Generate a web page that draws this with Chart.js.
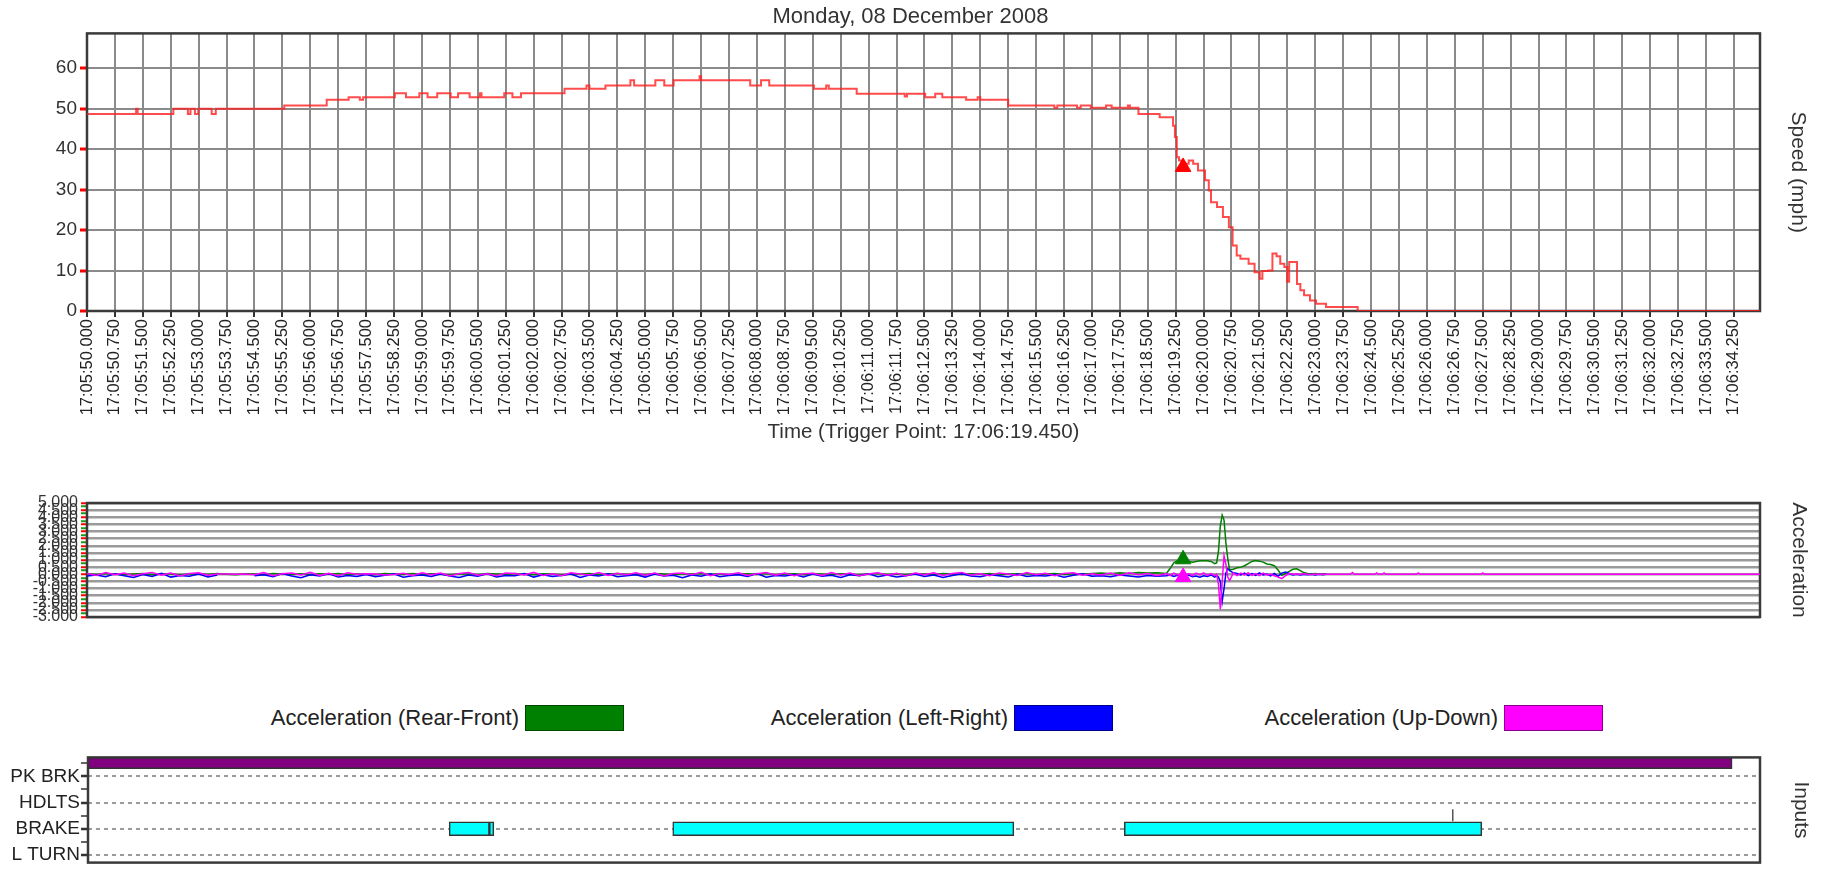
<!DOCTYPE html>
<html>
<head>
<meta charset="utf-8">
<script src="https://cdn.jsdelivr.net/npm/chart.js@4.4.1/dist/chart.umd.min.js"></script>
<style>
  body { margin: 0; background: #fff; font-family: "Liberation Sans", Arial, sans-serif; }
  #wrap { position: relative; width: 1821px; height: 875px; overflow: hidden; }
  canvas { position: absolute; left: 0; }
  #speedChart { top: 0; }
  #accelChart { top: 480px; }
  #inputsChart { top: 745px; }
  .legend-text { position: absolute; top: 705px; width: 400px; height: 26px; line-height: 26px;
    font-size: 22px; color: #222; text-align: right; white-space: nowrap; }
  .legend-box { position: absolute; top: 705px; width: 99px; height: 26px; box-sizing: border-box;
    border: 1px solid rgba(0, 0, 0, 0.45); }
</style>
</head>
<body>
<div id="wrap">
  <canvas id="speedChart" width="1821" height="450"></canvas>
  <canvas id="accelChart" width="1821" height="160"></canvas>
  <div id="accelLegend"></div>
  <canvas id="inputsChart" width="1821" height="130"></canvas>
</div>
<script>
// clock time of the first sample, seconds are counted from here
const startHour = 17, startMinute = 5, startSecond = 50;
const timeMax = 44.95;
const triggerTime = 29.45;

// speed (mph), change points of the stepped trace
const speedTimes = [
  0, 1.32, 1.36, 2.32, 2.71, 2.78, 2.9, 2.99, 3.35, 3.46,
  5.3, 6.44, 7.03, 7.33, 7.42, 8.27, 8.57, 8.93, 9.15, 9.41,
  9.77, 9.97, 10.28, 10.56, 10.6, 11.21, 11.43, 11.66, 12.83, 13.42,
  13.5, 13.93, 14.6, 14.7, 15.27, 15.51, 15.76, 16.46, 16.5, 17.82,
  18.11, 18.33, 19.53, 19.86, 19.93, 20.68, 21.97, 22.03, 22.52, 22.79,
  22.98, 23.62, 23.93, 24.0, 24.75, 25.99, 26.07, 26.6, 26.7, 26.97,
  27.38, 27.53, 27.97, 28.02, 28.25, 28.82, 29.18, 29.23, 29.28, 29.34,
  29.45, 29.6, 29.72, 29.85, 30.04, 30.14, 30.2, 30.36, 30.52, 30.68,
  30.78, 30.89, 30.99, 31.21, 31.37, 31.51, 31.58, 31.74, 31.85, 31.96,
  32.06, 32.17, 32.25, 32.3, 32.47, 32.51, 32.6, 32.7, 32.86, 33.02,
  33.29, 34.14, 44.95
];
const speedMph = [
  48.7, 50, 48.7, 50, 48.7, 50, 48.7, 50, 48.7, 50,
  50.8, 52.2, 52.8, 52.2, 52.8, 53.8, 52.8, 53.8, 52.8, 53.8,
  52.8, 53.8, 52.8, 53.8, 52.8, 53.8, 52.8, 53.8, 54.9, 55.7,
  54.9, 55.7, 57.0, 55.7, 57.0, 55.7, 57.0, 58.0, 57.0, 55.7,
  57.0, 55.7, 54.9, 55.7, 54.9, 53.7, 53.0, 53.7, 52.8, 53.7,
  52.8, 52.2, 52.8, 52.2, 50.8, 50.2, 50.8, 50.2, 50.8, 50.2,
  50.8, 50.2, 50.8, 50.2, 48.7, 47.9, 45.8, 43.0, 38.0, 37.2,
  36.4, 37.2, 36.4, 34.7, 32.3, 29.8, 26.9, 25.7, 23.2, 20.7,
  16.2, 13.7, 12.9, 11.7, 9.6, 8.0, 9.9, 10.0, 14.2, 13.5,
  11.7, 10.9, 7.2, 12.1, 12.1, 6.7, 5.1, 3.9, 2.6, 1.8,
  1.0, 0, 0
];
const speedAtTrigger = [35.6];

// acceleration before the event, one sample every 0.25 s from 0
const accelStep = 0.25;
const rearFrontPre = [
  0.03, -0.02, 0.05, 0.0, -0.04, 0.02, 0.06, -0.03, 0.01, 0.04,
  -0.05, 0.02, 0.03, -0.01, 0.05, 0.0, -0.03, 0.04, 0.02, -0.04,
  0.06, 0.01, -0.02, 0.03, -0.05, 0.04, 0.0, 0.05, -0.03, 0.02,
  0.01, -0.04, 0.05, 0.02, -0.02, 0.06, -0.01, 0.03, 0.0, -0.05,
  0.04, 0.02, -0.03, 0.05, 0.01, -0.02, 0.06, 0.0, -0.04, 0.03,
  0.02, -0.05, 0.04, 0.01, 0.05, -0.03, 0.02, 0.06, -0.01, 0.0,
  -0.03, 0.05, 0.02, -0.04, 0.03, 0.01, 0.06, -0.02, 0.04, -0.05,
  0.0, 0.03, -0.01, 0.05, -0.03, 0.02, 0.04, -0.04, 0.06, 0.01,
  -0.02, 0.04, 0.0, -0.05, 0.03, 0.05, -0.01, 0.02, -0.04, 0.06,
  0.01, -0.03, 0.05, 0.02, -0.02, 0.04, 0.0, 0.06, -0.05, 0.03,
  0.02, 0.05, -0.04, 0.01, 0.06, -0.02, 0.03, 0.0, 0.05, 0.08,
  0.04, 0.1, 0.06, 0.12, 0.08, 0.1
];
const leftRightPre = [
  -0.12, -0.05, -0.18, 0.04, -0.1, -0.22, -0.02, -0.15, 0.06, -0.2,
  -0.08, -0.14, 0.02, -0.19, -0.06, null, null, null, -0.11, -0.03,
  -0.17, 0.05, -0.12, -0.24, -0.04, -0.13, 0.03, -0.2, -0.09, -0.15,
  -0.02, -0.18, -0.07, 0.04, -0.21, -0.1, -0.05, -0.16, 0.02, -0.12,
  -0.23, -0.06, -0.14, 0.03, -0.19, -0.08, -0.11, 0.05, -0.2, -0.04,
  -0.15, -0.09, 0.01, -0.22, -0.06, -0.13, 0.04, -0.17, -0.1, -0.03,
  -0.2, 0.02, -0.12, -0.07, -0.24, -0.05, -0.14, 0.03, -0.18, -0.09,
  -0.04, -0.16, 0.05, -0.21, -0.08, -0.12, -0.02, -0.19, 0.01, -0.14,
  -0.07, -0.22, -0.03, -0.11, 0.04, -0.17, -0.06, -0.2, -0.1, 0.02,
  -0.15, -0.05, -0.23, -0.09, 0.03, -0.13, -0.18, -0.04, -0.11, -0.2,
  0.01, -0.16, -0.08, -0.12, -0.03, -0.21, -0.07, 0.04, -0.14, -0.1,
  -0.18, -0.05, -0.12, -0.2, -0.08, -0.14
];
const upDownPre = [
  0.06, -0.08, 0.12, -0.04, 0.09, -0.11, 0.03, 0.13, -0.06, 0.08,
  -0.12, 0.05, 0.1, -0.07, 0.02, 0.01, 0.0, 0.01, -0.03, 0.12,
  -0.1, 0.04, 0.09, -0.05, 0.13, -0.08, 0.06, -0.11, 0.1, 0.0,
  0.03, 0.02, -0.06, -0.01, 0.07, -0.09, 0.11, -0.04, 0.08, -0.12,
  0.05, 0.12, -0.07, 0.03, -0.1, 0.09, 0.06, -0.05, 0.13, -0.08,
  0.04, -0.11, 0.1, 0.02, -0.06, 0.12, -0.09, 0.07, -0.03, 0.11,
  -0.07, 0.09, -0.12, 0.05, 0.08, -0.04, 0.13, -0.1, 0.06, -0.02,
  0.1, -0.08, 0.04, 0.12, -0.06, 0.09, -0.11, 0.03, 0.07, -0.09,
  0.12, -0.05, 0.08, -0.1, 0.02, 0.11, -0.07, 0.06, -0.12, 0.09,
  -0.03, 0.1, -0.08, 0.05, 0.13, -0.06, 0.04, -0.1, 0.08, 0.01,
  -0.09, 0.12, -0.04, 0.07, -0.11, 0.06, 0.1, -0.07, 0.03, -0.05,
  0.09, -0.08, 0.11, -0.03, 0.06, -0.1
];

// acceleration around the impact
const eventTimes = [
  29.0, 29.1, 29.2, 29.3, 29.4, 29.5, 29.6, 29.7, 29.8, 29.9,
  30.0, 30.1, 30.2, 30.3, 30.35, 30.4, 30.45, 30.5, 30.55, 30.6,
  30.65, 30.7, 30.8, 30.9, 31.0, 31.1, 31.2, 31.3, 31.4, 31.5,
  31.6, 31.7, 31.8, 31.9, 32.0, 32.1, 32.2, 32.3, 32.4, 32.5,
  32.6, 32.7, 32.8, 32.9, 33.0, 33.1, 33.2, 33.3
];
const rearFrontEvent = [
  0.05, 0.4, 0.8, 0.95, 1.0, 0.95, 0.9, 0.85, 0.9, 0.95,
  0.95, 0.95, 0.9, 0.75, 0.8, 1.6, 3.4, 4.15, 3.8, 2.2,
  1.1, 0.3, 0.35, 0.45, 0.5, 0.6, 0.75, 0.9, 0.97, 0.92,
  0.85, 0.72, 0.68, 0.6, 0.3, -0.08, 0.05, 0.2, 0.35, 0.38,
  0.25, 0.1, 0.05, 0.02, 0.05, 0.0, 0.03, 0.0
];
const leftRightEvent = [
  -0.1, -0.05, -0.15, -0.08, -0.2, -0.1, -0.05, -0.18, -0.12, -0.2,
  -0.1, -0.15, -0.05, -0.2, -0.1, -0.2, -0.5, -1.9, -1.0, 0.1,
  0.4, 0.25, 0.1, 0.05, -0.05, 0.08, -0.1, 0.05, -0.08, 0.1,
  -0.05, 0.02, -0.12, 0.05, -0.15, 0.08, 0.15, 0.05, -0.05, 0.0,
  -0.05, 0.0, -0.03, 0.0, -0.05, 0.0, -0.04, 0.0
];
const upDownEvent = [
  0.05, -0.1, 0.08, -0.05, 0.0, -0.12, 0.05, -0.1, 0.08, -0.05,
  0.1, -0.08, 0.05, -0.1, 0.0, -0.7, -2.45, -0.5, 1.3, 0.7,
  -0.2, -0.45, 0.1, -0.1, 0.08, -0.05, 0.1, -0.08, 0.05, -0.1,
  0.08, -0.05, 0.0, -0.1, -0.2, -0.3, -0.1, 0.05, 0.0, 0.02,
  0.0, 0.03, 0.0, -0.02, 0.0, 0.02, 0.0, 0.0
];
const upDownTailTimes = [33.5, 33.95, 34.0, 34.05, 34.6, 34.65, 34.7, 34.8, 34.85, 34.9, 35.72, 35.77, 35.82, 37.45, 37.5, 37.55, 44.95];
const upDownTail = [0, 0, 0.12, 0, 0, 0.1, 0, 0, 0.1, 0, 0, 0.1, 0, 0, 0.1, 0, 0];
const rearFrontAtTrigger = [1.05];
const upDownAtTrigger = [-0.2];

// digital inputs
const inputRows = ['L TURN', 'BRAKE', 'HDLTS', 'PK BRK'];
const inputTicks = [0, 0.5, 1, 1.5, 2, 2.5, 3, 3.5];
const brakeOn = [[9.71, 10.79], [10.79, 10.91], [15.72, 24.89], [27.86, 37.47]];
const parkBrakeOn = [[0, 44.2]];
const parkBrakeRow = 3.5;
const brakeRow = 1;
const headlightBlipTime = [36.69];
const headlightBlipSpan = [1.29, 1.74];

const legendItems = [
  { label: 'Acceleration (Rear-Front)', color: '#008000', boxLeft: 525 },
  { label: 'Acceleration (Left-Right)', color: '#0000ff', boxLeft: 1014 },
  { label: 'Acceleration (Up-Down)', color: '#ff00ff', boxLeft: 1504 }
];

Chart.defaults.font.family = '"Liberation Sans", Arial, sans-serif';
Chart.defaults.color = '#222';
Chart.defaults.animation = false;

const pad = (n, w) => String(n).padStart(w, '0');
function clock(sec) {
  const ms = Math.round((startSecond + sec) * 1000);
  const m = startMinute + Math.floor(ms / 60000);
  const s = Math.floor(ms / 1000) % 60;
  return startHour + ':' + pad(m, 2) + ':' + pad(s, 2) + '.' + pad(ms % 1000, 3);
}
const points = (xs, ys) => xs.map((x, i) => ({ x: x, y: ys[i] }));
const preTimes = upDownPre.map((_, i) => i * accelStep);
const isStep = (v, step) => Math.abs(v / step - Math.round(v / step)) < 1e-6;
const tickVal = c => (c.tick ? c.tick.value : NaN);

// box round the plot area, under the data
const frame = {
  id: 'frame',
  beforeDatasetsDraw(chart) {
    const { ctx, chartArea: a } = chart;
    ctx.save();
    ctx.strokeStyle = '#3a3a3a';
    ctx.lineWidth = 2.5;
    ctx.strokeRect(a.left, a.top, a.right - a.left, a.bottom - a.top);
    ctx.restore();
  }
};

// empty right axis that only carries the rotated title
function rightTitle(text, padTop) {
  return {
    position: 'right',
    grid: { display: false },
    border: { display: false },
    ticks: { display: false },
    title: { display: true, text: text, font: { size: 21 }, color: '#333', padding: { top: padTop, bottom: 0 } },
    afterFit(scale) { scale.width = 61; }
  };
}

const trigger = (y, color) => ({
  data: [{ x: triggerTime, y: y }],
  showLine: false,
  pointStyle: 'triangle',
  pointRadius: 9,
  backgroundColor: color,
  borderColor: color,
  order: 0
});

new Chart(document.getElementById('speedChart'), {
  type: 'line',
  data: {
    datasets: [
      trigger(speedAtTrigger[0], '#ff0000'),
      {
        label: 'Speed (mph)',
        data: points(speedTimes, speedMph),
        stepped: true,
        borderColor: 'rgba(255, 30, 30, 0.8)',
        borderWidth: 2,
        pointRadius: 0,
        order: 1
      }
    ]
  },
  options: {
    responsive: false,
    devicePixelRatio: 1,
    plugins: {
      legend: { display: false },
      tooltip: { enabled: false },
      title: {
        display: true,
        text: 'Monday, 08 December 2008',
        font: { size: 22, weight: 'normal' },
        color: '#333',
        padding: { top: 4, bottom: 3 }
      }
    },
    scales: {
      x: {
        type: 'linear',
        min: 0,
        max: timeMax,
        grid: { color: '#8a8a8a', lineWidth: 2, tickColor: '#333', tickLength: 6 },
        border: { display: false },
        ticks: {
          stepSize: 0.75,
          maxTicksLimit: 100,
          includeBounds: false,
          autoSkip: false,
          minRotation: 90,
          maxRotation: 90,
          padding: 2,
          font: { size: 16.5 },
          color: '#222',
          callback: v => clock(v)
        },
        title: {
          display: true,
          text: 'Time (Trigger Point: 17:06:19.450)',
          font: { size: 20.5 },
          color: '#333',
          padding: { top: 0, bottom: 5 }
        },
        afterFit(scale) { scale.height = 139; }
      },
      y: {
        min: 0,
        max: 68.6,
        grid: {
          color: c => isStep(tickVal(c), 10) ? '#8a8a8a' : 'rgba(0,0,0,0)',
          lineWidth: 2,
          tickColor: c => isStep(tickVal(c), 10) ? '#ff0000' : '#1a9a1a',
          tickWidth: c => isStep(tickVal(c), 10) ? 3 : 2,
          tickLength: 7
        },
        border: { display: false },
        ticks: {
          stepSize: 5,
          maxTicksLimit: 50,
          includeBounds: false,
          padding: 3,
          font: { size: 19 },
          color: '#333',
          callback: v => isStep(v, 10) ? String(v) : ''
        },
        afterFit(scale) { scale.width = 87; }
      },
      yr: rightTitle('Speed (mph)', 11)
    }
  },
  plugins: [frame]
});

new Chart(document.getElementById('accelChart'), {
  type: 'line',
  data: {
    datasets: [
      trigger(rearFrontAtTrigger[0], '#008000'),
      trigger(upDownAtTrigger[0], '#ff00ff'),
      {
        label: legendItems[0].label,
        data: points(preTimes, rearFrontPre).concat(points(eventTimes, rearFrontEvent)),
        borderColor: legendItems[0].color,
        borderWidth: 1.5,
        pointRadius: 0,
        order: 3
      },
      {
        label: legendItems[1].label,
        data: points(preTimes, leftRightPre).concat(points(eventTimes, leftRightEvent)),
        borderColor: legendItems[1].color,
        borderWidth: 1.5,
        pointRadius: 0,
        order: 2
      },
      {
        label: legendItems[2].label,
        data: points(preTimes, upDownPre).concat(points(eventTimes, upDownEvent), points(upDownTailTimes, upDownTail)),
        borderColor: legendItems[2].color,
        borderWidth: 1.5,
        pointRadius: 0,
        order: 1
      }
    ]
  },
  options: {
    responsive: false,
    devicePixelRatio: 1,
    layout: { padding: { top: 23, bottom: 23 } },
    plugins: { legend: { display: false }, tooltip: { enabled: false } },
    scales: {
      x: { type: 'linear', min: 0, max: timeMax, display: false },
      y: {
        min: -3,
        max: 5,
        grid: {
          color: c => isStep(tickVal(c), 0.5) ? '#9a9a9a' : 'rgba(0,0,0,0)',
          lineWidth: 2.5,
          tickColor: c => isStep(tickVal(c), 0.5) ? '#ff0000' : '#1a9a1a',
          tickWidth: 2,
          tickLength: 6
        },
        border: { display: false },
        ticks: {
          count: 33,
          autoSkip: false,
          padding: 3,
          font: { size: 16 },
          color: '#333',
          callback: v => isStep(v, 0.5) ? v.toFixed(3) : ''
        },
        afterFit(scale) { scale.width = 87; }
      },
      yr: rightTitle('Acceleration', 10)
    }
  },
  plugins: [frame]
});

new Chart(document.getElementById('inputsChart'), {
  type: 'bar',
  data: {
    datasets: [
      {
        label: 'PK BRK',
        data: parkBrakeOn.map(r => ({ x: r, y: parkBrakeRow })),
        backgroundColor: '#800080',
        borderColor: '#333',
        borderWidth: 1.5,
        borderSkipped: false,
        barThickness: 11,
        grouped: false
      },
      {
        label: 'BRAKE',
        data: brakeOn.map(r => ({ x: r, y: brakeRow })),
        backgroundColor: '#00ffff',
        borderColor: '#333',
        borderWidth: 1.5,
        borderSkipped: false,
        barThickness: 14,
        grouped: false
      },
      {
        type: 'line',
        label: 'HDLTS',
        data: headlightBlipSpan.map(y => ({ x: headlightBlipTime[0], y: y })),
        borderColor: '#555',
        borderWidth: 1.5,
        pointRadius: 0
      }
    ]
  },
  options: {
    responsive: false,
    devicePixelRatio: 1,
    indexAxis: 'y',
    layout: { padding: { top: 11, bottom: 3 } },
    plugins: { legend: { display: false }, tooltip: { enabled: false } },
    scales: {
      x: { type: 'linear', min: 0, max: timeMax, display: false, offset: false, grid: { offset: false } },
      y: {
        type: 'linear',
        min: -0.29,
        max: 3.72,
        offset: false,
        afterBuildTicks(scale) { scale.ticks = inputTicks.map(v => ({ value: v })); },
        grid: {
          offset: false,
          color: c => Number.isInteger(tickVal(c)) ? '#9a9a9a' : 'rgba(0,0,0,0)',
          lineWidth: 2,
          tickColor: '#333',
          tickWidth: c => Number.isInteger(tickVal(c)) ? 2.5 : 1.5,
          tickLength: 7
        },
        border: { display: false, dash: [4, 4] },
        ticks: {
          autoSkip: false,
          padding: 1,
          font: { size: 19 },
          color: '#222',
          callback: v => Number.isInteger(v) ? inputRows[v] : ''
        },
        afterFit(scale) { scale.width = 88; }
      },
      yr: rightTitle('Inputs', 8)
    }
  },
  plugins: [frame]
});

// legend of the acceleration panel: label text first, colour box after it
const legendEl = document.getElementById('accelLegend');
legendItems.forEach(item => {
  const text = document.createElement('div');
  text.className = 'legend-text';
  text.style.left = (item.boxLeft - 406) + 'px';
  text.textContent = item.label;
  const box = document.createElement('div');
  box.className = 'legend-box';
  box.style.left = item.boxLeft + 'px';
  box.style.background = item.color;
  legendEl.appendChild(text);
  legendEl.appendChild(box);
});
</script>
</body>
</html>
